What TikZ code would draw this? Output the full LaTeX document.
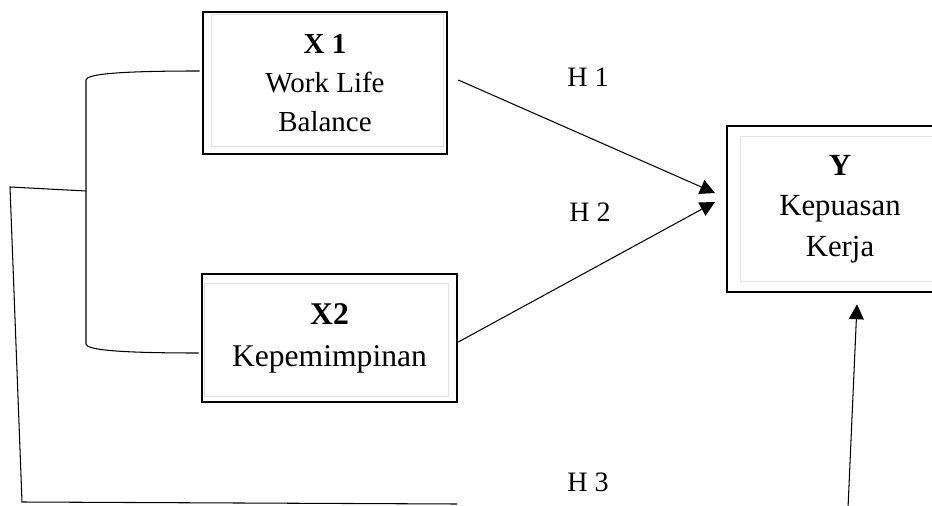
\documentclass[tikz,border=0pt]{standalone}
\usepackage{fontspec}
\setmainfont{Liberation Serif}
\usetikzlibrary{arrows.meta}

\begin{document}
\begin{tikzpicture}[x=0.02cm,y=-0.02cm,>={Triangle[length=8.5pt,width=8.5pt]},semithick]
	\tikzstyle{var}=[draw,line width=1.5pt,align=center,inner sep=0pt]
	\tikzstyle{inner}=[draw=black!12,thin]
	\tikzstyle{hyp}=[font=\fontsize{16}{19}\selectfont]

	\useasboundingbox (0,0) rectangle (932,506);

	\node[var,minimum width=4.88cm,minimum height=2.84cm,font=\fontsize{16.5}{22}\selectfont] (X1) at (325,83) {\textbf{X 1}\\Work Life\\Balance};
	\node[var,minimum width=5.1cm,minimum height=2.56cm,font=\fontsize{18}{24}\selectfont] (X2) at (329.5,338) {\textbf{X2}\\Kepemimpinan};
	\node[var,minimum width=4.52cm,minimum height=3.32cm,font=\fontsize{17.5}{23}\selectfont] (Y) at (840,209) {\textbf{Y}\\Kepuasan\\Kerja};

	\draw[inner] ([shift={(10,4)}]X1.north west) rectangle ([shift={(-5,-9)}]X1.south east);
	\draw[inner] ([shift={(4,11)}]X2.north west) rectangle ([shift={(-10,-7)}]X2.south east);
	\draw[inner] ([shift={(15,12)}]Y.north west) rectangle ([shift={(-15,-12)}]Y.south east);

	\node[hyp] (H1) at (588,77) {H 1};
	\node[hyp] (H2) at (590,212) {H 2};
	\node[hyp] (H3) at (588,482) {H 3};

	\coordinate (stem) at (86,191);
	\coordinate (far) at (10,187);
	\coordinate (low) at (22,502);
	\coordinate (end) at (457,504);
	\coordinate (foot) at (848,508);

	% bracket joining X1 and X2
	\draw ([shift={(-2,-12)}]X1.west) .. controls (120,71) and (86,74) .. (86,80) -- (86,344) .. controls (86,350) and (120,353) .. ([shift={(-2,15)}]X2.west);
	\draw (stem) -- (far) -- (low) -- (end);

	\draw[->] ([shift={(10,-3)}]X1.east) -- (715,193);
	\draw[->] ([shift={(0,4)}]X2.east) -- (715,202);
	\draw[->] (foot) -- ([shift={(17,11)}]Y.south);
\end{tikzpicture}
\end{document}
